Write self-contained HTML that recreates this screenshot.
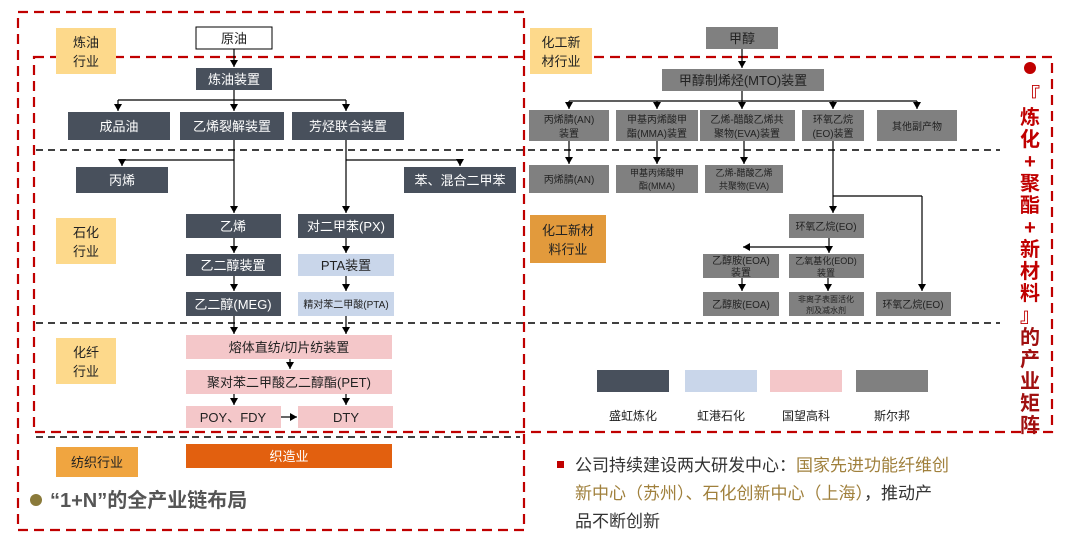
<!DOCTYPE html>
<html><head><meta charset="utf-8"><style>
body{margin:0;background:#fff;}
svg{display:block;font-family:"Liberation Sans","Noto Sans CJK SC",sans-serif;}
</style></head><body>
<svg width="1080" height="555" viewBox="0 0 1080 555" xmlns="http://www.w3.org/2000/svg">
<defs>
<marker id="a" markerWidth="8" markerHeight="8" refX="7" refY="4" orient="auto" markerUnits="userSpaceOnUse">
<path d="M0,0 L7,4 L0,8 Z" fill="#000"/></marker>
<marker id="al" markerWidth="8" markerHeight="8" refX="1" refY="4" orient="0" markerUnits="userSpaceOnUse">
<path d="M8,0 L1,4 L8,8 Z" fill="#000"/></marker>
</defs>
<style>
.d{fill:#48505c}.g{fill:#808080}.b{fill:#c9d6ea}.p{fill:#f4c7c9}
.w{fill:#fff;font-size:13px;text-anchor:middle}
.k{fill:#222;font-size:12px;text-anchor:middle}
.s{fill:#222;font-size:10px;text-anchor:middle}
.l{fill:none;stroke:#000;stroke-width:1.2}
.dash{stroke:#000;stroke-width:1.6;stroke-dasharray:7,5}
.lab{fill:#222;font-size:13px;text-anchor:middle}
</style>
<rect x="18" y="12" width="506" height="518" fill="none" stroke="#c00000" stroke-width="2.2" stroke-dasharray="10,6"/>
<rect x="34" y="57" width="1018" height="375" fill="none" stroke="#c00000" stroke-width="2.2" stroke-dasharray="10,6"/>
<line x1="36" y1="150" x2="1000" y2="150" class="dash"/>
<line x1="36" y1="323" x2="1000" y2="323" class="dash"/>
<line x1="36" y1="437" x2="520" y2="437" class="dash"/>
<rect x="56" y="28" width="60" height="46" fill="#fdd98b"/><text x="86" y="47" class="lab">炼油</text><text x="86" y="66" class="lab">行业</text>
<rect x="56" y="218" width="60" height="46" fill="#fdd98b"/><text x="86" y="237" class="lab">石化</text><text x="86" y="256" class="lab">行业</text>
<rect x="56" y="338" width="60" height="46" fill="#fdd98b"/><text x="86" y="357" class="lab">化纤</text><text x="86" y="376" class="lab">行业</text>
<rect x="56" y="447" width="82" height="30" fill="#f0a540"/><text x="97" y="467" class="lab">纺织行业</text>
<rect x="530" y="28" width="62" height="46" fill="#fdd98b"/><text x="561" y="47" class="lab">化工新</text><text x="561" y="66" class="lab">材行业</text>
<rect x="530" y="215" width="76" height="48" fill="#e29a3c"/><text x="568" y="235" class="lab">化工新材</text><text x="568" y="254" class="lab">料行业</text>
<g class="l">
<line x1="234" y1="49" x2="234" y2="67" marker-end="url(#a)"/>
<line x1="234" y1="90" x2="234" y2="100"/>
<line x1="118" y1="100" x2="346" y2="100"/>
<line x1="118" y1="100" x2="118" y2="111" marker-end="url(#a)"/>
<line x1="234" y1="100" x2="234" y2="111" marker-end="url(#a)"/>
<line x1="346" y1="100" x2="346" y2="111" marker-end="url(#a)"/>
<line x1="234" y1="140" x2="234" y2="213" marker-end="url(#a)"/>
<line x1="122" y1="160" x2="234" y2="160"/>
<line x1="122" y1="160" x2="122" y2="166" marker-end="url(#a)"/>
<line x1="346" y1="140" x2="346" y2="213" marker-end="url(#a)"/>
<line x1="346" y1="160" x2="460" y2="160"/>
<line x1="460" y1="160" x2="460" y2="166" marker-end="url(#a)"/>
<line x1="234" y1="238" x2="234" y2="253" marker-end="url(#a)"/>
<line x1="346" y1="238" x2="346" y2="253" marker-end="url(#a)"/>
<line x1="234" y1="276" x2="234" y2="291" marker-end="url(#a)"/>
<line x1="346" y1="276" x2="346" y2="291" marker-end="url(#a)"/>
<line x1="234" y1="316" x2="234" y2="334" marker-end="url(#a)"/>
<line x1="346" y1="316" x2="346" y2="334" marker-end="url(#a)"/>
<line x1="290" y1="359" x2="290" y2="369" marker-end="url(#a)"/>
<line x1="234" y1="394" x2="234" y2="405" marker-end="url(#a)"/>
<line x1="346" y1="394" x2="346" y2="405" marker-end="url(#a)"/>
<line x1="281" y1="417" x2="297" y2="417" marker-end="url(#a)"/>
</g>
<rect x="196" y="27" width="76" height="22" fill="#fff" stroke="#000"/><text x="234" y="43" class="k" style="font-size:13px">原油</text>
<rect x="196" y="68" width="76" height="22" class="d"/><text x="234" y="84" class="w">炼油装置</text>
<rect x="68" y="112" width="102" height="28" class="d"/><text x="119" y="131" class="w">成品油</text>
<rect x="180" y="112" width="104" height="28" class="d"/><text x="232" y="131" class="w">乙烯裂解装置</text>
<rect x="292" y="112" width="112" height="28" class="d"/><text x="348" y="131" class="w">芳烃联合装置</text>
<rect x="76" y="167" width="92" height="26" class="d"/><text x="122" y="185" class="w">丙烯</text>
<rect x="404" y="167" width="112" height="26" class="d"/><text x="460" y="185" class="w">苯、混合二甲苯</text>
<rect x="186" y="214" width="95" height="24" class="d"/><text x="233" y="231" class="w">乙烯</text>
<rect x="298" y="214" width="96" height="24" class="d"/><text x="346" y="231" class="w">对二甲苯(PX)</text>
<rect x="186" y="254" width="95" height="22" class="d"/><text x="233" y="270" class="w">乙二醇装置</text>
<rect x="298" y="254" width="96" height="22" class="b"/><text x="346" y="270" class="k" style="font-size:13px">PTA装置</text>
<rect x="186" y="292" width="95" height="24" class="d"/><text x="233" y="309" class="w">乙二醇(MEG)</text>
<rect x="298" y="292" width="96" height="24" class="b"/><text x="346" y="308" class="s">精对苯二甲酸(PTA)</text>
<rect x="186" y="335" width="206" height="24" class="p"/><text x="289" y="352" class="k" style="font-size:13px">熔体直纺/切片纺装置</text>
<rect x="186" y="370" width="206" height="24" class="p"/><text x="289" y="387" class="k" style="font-size:13px">聚对苯二甲酸乙二醇酯(PET)</text>
<rect x="186" y="406" width="95" height="22" class="p"/><text x="233" y="422" class="k" style="font-size:13px">POY、FDY</text>
<rect x="298" y="406" width="95" height="22" class="p"/><text x="346" y="422" class="k" style="font-size:13px">DTY</text>
<rect x="186" y="444" width="206" height="24" fill="#e2600f"/><text x="289" y="461" class="w">织造业</text>
<circle cx="36" cy="500" r="6" fill="#8a7a3a"/>
<text x="50" y="507" style="font-size:20px;font-weight:bold;fill:#555">“1+N”的全产业链布局</text>
<g class="l">
<line x1="742" y1="49" x2="742" y2="68" marker-end="url(#a)"/>
<line x1="742" y1="91" x2="742" y2="101"/>
<line x1="569" y1="101" x2="917" y2="101"/>
<line x1="569" y1="101" x2="569" y2="109" marker-end="url(#a)"/>
<line x1="657" y1="101" x2="657" y2="109" marker-end="url(#a)"/>
<line x1="742" y1="101" x2="742" y2="109" marker-end="url(#a)"/>
<line x1="833" y1="101" x2="833" y2="109" marker-end="url(#a)"/>
<line x1="917" y1="101" x2="917" y2="109" marker-end="url(#a)"/>
<line x1="569" y1="141" x2="569" y2="164" marker-end="url(#a)"/>
<line x1="657" y1="141" x2="657" y2="164" marker-end="url(#a)"/>
<line x1="744" y1="141" x2="744" y2="164" marker-end="url(#a)"/>
<line x1="833" y1="141" x2="833" y2="213" marker-end="url(#a)"/>
<line x1="833" y1="196" x2="922" y2="196"/>
<line x1="922" y1="196" x2="922" y2="291" marker-end="url(#a)"/>
<line x1="829" y1="238" x2="829" y2="253" marker-end="url(#a)"/>
<line x1="743" y1="247" x2="829" y2="247" marker-start="url(#al)"/>
<line x1="742" y1="278" x2="742" y2="291" marker-end="url(#a)"/>
<line x1="828" y1="278" x2="828" y2="291" marker-end="url(#a)"/>
</g>
<rect x="706" y="27" width="72" height="22" class="g"/><text x="742" y="43" class="k" style="font-size:13px">甲醇</text>
<rect x="662" y="69" width="162" height="22" class="g"/><text x="743" y="85" class="k" style="font-size:13px">甲醇制烯烃(MTO)装置</text>
<rect x="529" y="110" width="80" height="31" class="g"/><text x="569" y="123" class="s">丙烯腈(AN)</text><text x="569" y="137" class="s">装置</text>
<rect x="616" y="110" width="82" height="31" class="g"/><text x="657" y="123" class="s">甲基丙烯酸甲</text><text x="657" y="137" class="s">酯(MMA)装置</text>
<rect x="700" y="110" width="95" height="31" class="g"/><text x="747" y="123" class="s">乙烯-醋酸乙烯共</text><text x="747" y="137" class="s">聚物(EVA)装置</text>
<rect x="802" y="110" width="62" height="31" class="g"/><text x="833" y="123" class="s">环氧乙烷</text><text x="833" y="137" class="s">(EO)装置</text>
<rect x="877" y="110" width="80" height="31" class="g"/><text x="917" y="130" class="s">其他副产物</text>
<rect x="529" y="165" width="80" height="28" class="g"/><text x="569" y="183" class="s">丙烯腈(AN)</text>
<rect x="616" y="165" width="82" height="28" class="g"/><text x="657" y="176" class="s" style="font-size:9px">甲基丙烯酸甲</text><text x="657" y="189" class="s" style="font-size:9px">酯(MMA)</text>
<rect x="705" y="165" width="78" height="28" class="g"/><text x="744" y="176" class="s" style="font-size:9px">乙烯-醋酸乙烯</text><text x="744" y="189" class="s" style="font-size:9px">共聚物(EVA)</text>
<rect x="789" y="214" width="75" height="24" class="g"/><text x="826" y="230" class="s">环氧乙烷(EO)</text>
<rect x="703" y="254" width="76" height="24" class="g"/><text x="741" y="264" class="s">乙醇胺(EOA)</text><text x="741" y="276" class="s">装置</text>
<rect x="789" y="254" width="75" height="24" class="g"/><text x="826" y="264" class="s" style="font-size:9px">乙氧基化(EOD)</text><text x="826" y="276" class="s" style="font-size:9px">装置</text>
<rect x="703" y="292" width="76" height="24" class="g"/><text x="741" y="308" class="s">乙醇胺(EOA)</text>
<rect x="789" y="292" width="75" height="24" class="g"/><text x="826" y="302" class="s" style="font-size:8px">非离子表面活化</text><text x="826" y="313" class="s" style="font-size:8px">剂及减水剂</text>
<rect x="876" y="292" width="75" height="24" class="g"/><text x="913" y="308" class="s">环氧乙烷(EO)</text>
<rect x="597" y="370" width="72" height="22" class="d"/><text x="633" y="420" class="k">盛虹炼化</text>
<rect x="685" y="370" width="72" height="22" class="b"/><text x="721" y="420" class="k">虹港石化</text>
<rect x="770" y="370" width="72" height="22" class="p"/><text x="806" y="420" class="k">国望高科</text>
<rect x="856" y="370" width="72" height="22" class="g"/><text x="892" y="420" class="k">斯尔邦</text>
<circle cx="1030" cy="68" r="6" fill="#c00000"/>
<g style="font-size:20px;font-weight:bold;fill:#c00000;text-anchor:middle">
<text x="1030" y="102">『</text><text x="1030" y="124">炼</text><text x="1030" y="146">化</text><text x="1030" y="168">+</text>
<text x="1030" y="190">聚</text><text x="1030" y="212">酯</text><text x="1030" y="234">+</text><text x="1030" y="256">新</text>
<text x="1030" y="278">材</text><text x="1030" y="300">料</text><text x="1030" y="322">』</text>
<text x="1030" y="344" fill="#a01010">的</text><text x="1030" y="366" fill="#a01010">产</text><text x="1030" y="388" fill="#a01010">业</text><text x="1030" y="410" fill="#a01010">矩</text><text x="1030" y="432" fill="#a01010">阵</text>
</g>
<rect x="557" y="461" width="7" height="7" fill="#c00000"/>
<g style="font-size:17px;fill:#333">
<text x="575" y="471">公司持续建设两大研发中心：<tspan fill="#a0803c">国家先进功能纤维创</tspan></text>
<text x="575" y="499"><tspan fill="#a0803c">新中心（苏州）、石化创新中心（上海）</tspan>，推动产</text>
<text x="575" y="527">品不断创新</text>
</g>
</svg>
</body></html>
